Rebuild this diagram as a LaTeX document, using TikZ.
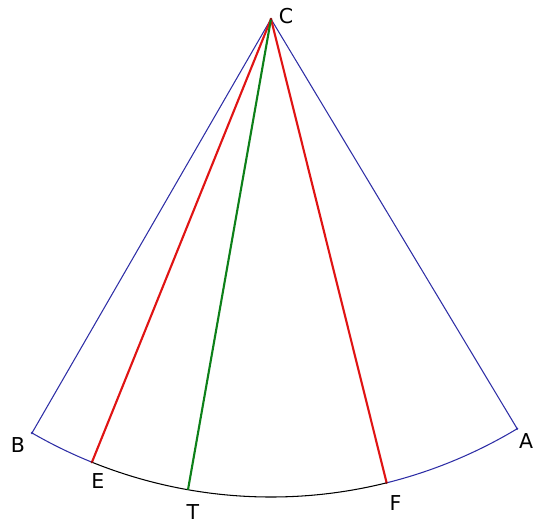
\documentclass[tikz,border=0pt]{standalone}
\usepackage{fontspec}
\setmainfont{DejaVu Sans}
\usepackage{tikz}
\usetikzlibrary{positioning}

\definecolor{arcblue}{rgb}{0.18,0.18,0.65}
\definecolor{segred}{rgb}{0.88,0.08,0.08}
\definecolor{seggreen}{rgb}{0.05,0.5,0.1}

\begin{document}
\begin{tikzpicture}[
        pt/.style={circle, fill=#1, inner sep=0pt, minimum size=2.2pt},
        lbl/.style={inner sep=0pt, font=\fontsize{17.5}{19}\selectfont},
        side/.style={draw=arcblue, line width=0.9pt},
        ray/.style={line width=1.8pt},
    ]
        \useasboundingbox (-8.13,-15.12) rectangle (7.89,0.57);
        % centre and the points on the arc (radius 14.34)
        \coordinate (C) at (0,0);
        \coordinate (B) at (240:14.34);
        \coordinate (E) at (248:14.34);
        \coordinate (T) at (260:14.34);
        \coordinate (F) at (284:14.34);
        \coordinate (A) at (301:14.34);

        \draw[side] (C) -- (B);
        \draw[side] (C) -- (A);
        \draw[side] (B) arc[start angle=240, end angle=248, radius=14.34];
        \draw[black, line width=0.9pt] (E) arc[start angle=248, end angle=284, radius=14.34];
        \draw[side] (F) arc[start angle=284, end angle=301, radius=14.34];
        \draw[ray, segred] (C) -- (E);
        \draw[ray, segred] (C) -- (F);
        \draw[ray, seggreen] (C) -- (T);

        \node[pt=segred!60!black] (c) at (C) {};
        \node[pt=arcblue] (b) at (B) {};
        \node[pt=arcblue] (a) at (A) {};
        \node[pt=segred!60!black] (e) at (E) {};
        \node[pt=segred!60!black] (f) at (F) {};

        \node[lbl] (lC) at ([shift={(0.45,0.09)}]C) {C};
        \node[lbl] (lB) at ([shift={(-0.42,-0.36)}]B) {B};
        \node[lbl] (lE) at ([shift={(0.18,-0.57)}]E) {E};
        \node[lbl] (lT) at ([shift={(0.15,-0.66)}]T) {T};
        \node[lbl] (lF) at ([shift={(0.27,-0.6)}]F) {F};
        \node[lbl] (lA) at ([shift={(0.27,-0.36)}]A) {A};
    \end{tikzpicture}
\end{document}
